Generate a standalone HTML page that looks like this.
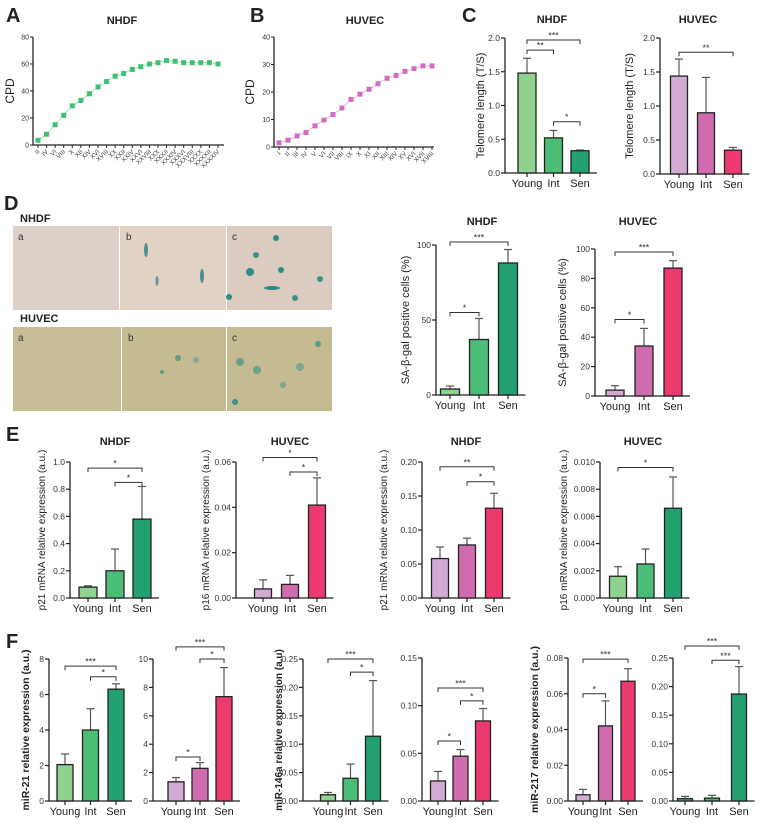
<!DOCTYPE html>
<html><head><meta charset="utf-8"><style>
html,body{margin:0;padding:0;background:#fff;}
svg{display:block;font-family:"Liberation Sans",Arial,sans-serif;}
</style></head><body>
<svg id="fig" width="763" height="824" viewBox="0 0 763 824" xmlns="http://www.w3.org/2000/svg">
<g id="static">
  <text x="6" y="22" font-size="20" font-weight="bold" fill="#222">A</text>
  <text x="250" y="22" font-size="20" font-weight="bold" fill="#222">B</text>
  <text x="462" y="22" font-size="20" font-weight="bold" fill="#222">C</text>
  <text x="4" y="210" font-size="20" font-weight="bold" fill="#222">D</text>
  <text x="6" y="441" font-size="20" font-weight="bold" fill="#222">E</text>
  <text x="6" y="648" font-size="20" font-weight="bold" fill="#222">F</text>
  <text x="20" y="222" font-size="11" font-weight="bold" fill="#222">NHDF</text>
  <text x="20" y="322" font-size="11" font-weight="bold" fill="#222">HUVEC</text>
  <g><rect x="13" y="226" width="106" height="84" fill="#ddd0c8"/><text x="18" y="240" font-size="10" fill="#333">a</text></g>
  <g><rect x="120" y="226" width="106" height="84" fill="#e1d2c4"/><text x="126" y="240" font-size="10" fill="#333">b</text>
    <ellipse cx="146" cy="250" rx="2" ry="7" fill="#4f8f94"/><ellipse cx="202" cy="276" rx="2" ry="7" fill="#4f8f94"/><ellipse cx="157" cy="281" rx="1.5" ry="5" fill="#5a9a98"/></g>
  <g><rect x="227" y="226" width="105" height="84" fill="#dbcbc0"/><text x="232" y="240" font-size="10" fill="#333">c</text>
    <circle cx="276" cy="238" r="3" fill="#2f8a86"/><circle cx="250" cy="272" r="4" fill="#2f8a86"/><circle cx="281" cy="270" r="3" fill="#2f8a86"/><ellipse cx="272" cy="288" rx="8" ry="2" fill="#2f8a86"/><circle cx="229" cy="297" r="3" fill="#2f8a86"/><circle cx="295" cy="298" r="3" fill="#3e8f8c"/><circle cx="320" cy="279" r="3" fill="#3e8f8c"/><circle cx="256" cy="255" r="3" fill="#3e8f8c"/></g>
  <g><rect x="13" y="327" width="108" height="84" fill="#c7be98"/><text x="18" y="341" font-size="10" fill="#333">a</text></g>
  <g><rect x="122" y="327" width="104" height="84" fill="#c4bb93"/><text x="128" y="341" font-size="10" fill="#333">b</text>
    <circle cx="178" cy="358" r="3" fill="#5c9a8a"/><circle cx="162" cy="372" r="2" fill="#5c9a8a"/><circle cx="196" cy="360" r="3" fill="#8aa98a"/></g>
  <g><rect x="227" y="327" width="105" height="84" fill="#c4bb93"/><text x="232" y="341" font-size="10" fill="#333">c</text>
    <circle cx="240" cy="362" r="4" fill="#6aa08e"/><circle cx="257" cy="370" r="4" fill="#6aa08e"/><circle cx="300" cy="367" r="4" fill="#7aa78e"/><circle cx="318" cy="344" r="3" fill="#5c9a8a"/><circle cx="235" cy="402" r="3" fill="#3e8f8c"/><circle cx="283" cy="385" r="3" fill="#7aa78e"/></g>
</g>
<g id="charts"></g>
</svg>
<script>
// ---- Panel A / B growth curves ----
const aLabels = ["II","IV","VI","VIII","X","XII","XIV","XVI","XVIII","XX","XXII","XXIV","XXVI","XXVIII","XXX","XXXII","XXXIV","XXXVI","XXXVIII","XXXX","XXXXII","XXXXIV"];
const aValues = [3.5,8,15,22,29,33,38,43,47,51,53,56,58,60,61,62.5,62,61,61,61,61,60];
const aTicks = [0,20,40,60,80];
const bLabels = ["I","II","III","IV","V","VI","VII","VIII","IX","X","XI","XII","XIII","XIV","XV","XVI","XVII","XVIII"];
const bValues = [1.5,2.5,4,5.3,7.7,9.8,11.8,14.2,17.3,19.2,21,23,25,26,27.5,28.5,29.5,29.5];
const bTicks = [0,10,20,30,40];
// ---- Bar charts ----
const groups = ["Young","Int","Sen"];
const cNhdfVals=[1.48,0.52,0.33], cNhdfErr=[0.22,0.11,0.01], cNhdfTicks=[0,0.5,1.0,1.5,2.0];
const cHuvecVals=[1.44,0.90,0.35], cHuvecErr=[0.25,0.52,0.04], cHuvecTicks=[0,0.5,1.0,1.5,2.0];
const dNhdfVals=[4,37,88], dNhdfErr=[2,14,9], dNhdfTicks=[0,50,100];
const dHuvecVals=[4,34,87], dHuvecErr=[3,12,5], dHuvecTicks=[0,20,40,60,80,100];
const e1Vals=[0.08,0.20,0.58], e1Err=[0.01,0.16,0.24], e1Ticks=[0,0.2,0.4,0.6,0.8,1.0];
const e2Vals=[0.004,0.006,0.041], e2Err=[0.004,0.004,0.012], e2Ticks=[0,0.02,0.04,0.06];
const e3Vals=[0.058,0.078,0.132], e3Err=[0.017,0.010,0.022], e3Ticks=[0,0.05,0.10,0.15,0.20];
const e4Vals=[0.0016,0.0025,0.0066], e4Err=[0.0007,0.0011,0.0023], e4Ticks=[0,0.002,0.004,0.006,0.008,0.010];
const f1Vals=[2.05,4.0,6.3], f1Err=[0.6,1.2,0.3], f1Ticks=[0,2,4,6,8];
const f2Vals=[1.35,2.3,7.35], f2Err=[0.3,0.4,2.05], f2Ticks=[0,2,4,6,8,10];
const f3Vals=[0.011,0.040,0.114], f3Err=[0.004,0.025,0.098], f3Ticks=[0,0.05,0.10,0.15,0.20,0.25];
const f4Vals=[0.021,0.047,0.084], f4Err=[0.010,0.007,0.013], f4Ticks=[0,0.05,0.10,0.15];
const f5Vals=[0.0035,0.042,0.067], f5Err=[0.003,0.014,0.007], f5Ticks=[0,0.02,0.04,0.06,0.08];
const f6Vals=[0.004,0.005,0.187], f6Err=[0.004,0.005,0.048], f6Ticks=[0,0.05,0.10,0.15,0.20,0.25];

const GREEN=["#8fd18f","#4bbd77","#23a070"], PURP=["#d2aad3","#d06cae","#ec3a70"];
const NS="http://www.w3.org/2000/svg";
const root=document.getElementById("charts");
function mk(tag,attrs,parent,txt){const e=document.createElementNS(NS,tag);for(const k in attrs)e.setAttribute(k,attrs[k]);if(txt!==undefined)e.textContent=txt;(parent||root).appendChild(e);return e;}
function fmt(v,d){return v.toFixed(d);}

function lineChart(o){
  const g=mk("g",{});
  
  
  const ys=v=>o.y0-(v/o.ymax)*(o.y0-o.yTop);
  const xs=i=>o.x1+i*o.dx;
  const ax=mk("path",{d:`M${o.ax} ${o.yTop}V${o.y0}H${o.axEnd}`,stroke:"#222","stroke-width":1.3,fill:"none"},g);
  
  
  o.ticks.forEach(t=>{mk("line",{x1:o.ax-3,x2:o.ax,y1:ys(t),y2:ys(t),stroke:"#222"},g);
    const tl=mk("text",{x:o.ax-4,y:ys(t)+2.5,"font-size":7,"text-anchor":"end",fill:"#333"},g,t);
    
    });
  let d="";
  o.values.forEach((v,i)=>{d+=(i?"L":"M")+xs(i)+" "+ys(v);});
  const ln=mk("path",{d:d,stroke:o.color,"stroke-width":0.8,fill:"none",opacity:0.6},g);
  
  
  o.values.forEach((v,i)=>{const p=mk("rect",{x:xs(i)-2.5,y:ys(v)-2.5,width:5,height:5,fill:o.color},g);
    
    });
  o.labels.forEach((l,i)=>{mk("line",{x1:xs(i),x2:xs(i),y1:o.y0,y2:o.y0+3,stroke:"#222"},g);
    const t=mk("text",{x:xs(i)+2,y:o.y0+7,"font-size":6.5,"text-anchor":"end",fill:"#444",transform:`rotate(-45 ${xs(i)+2} ${o.y0+7})`},g,l);
    
    });
  const yl=mk("text",{x:o.ylx,y:(o.y0+o.yTop)/2,"font-size":12,"text-anchor":"middle",fill:"#222",transform:`rotate(-90 ${o.ylx} ${(o.y0+o.yTop)/2})`},g,"CPD");
  
  
  const tt=mk("text",{x:o.tx,y:o.ty,"font-size":11,"font-weight":"bold","text-anchor":"middle",fill:"#222"},g,o.title);
  
  
}

function barChart(o){
  const g=mk("g",{});
  
  
  const ymax=o.ticks[o.ticks.length-1];
  const ys=v=>o.y0-(v/ymax)*(o.y0-o.yTop);
  const xs=i=>o.c0+i*o.dc;
  const axEnd=xs(2)+o.bw/2+8;
  const ax=mk("path",{d:`M${o.ax} ${o.yTop}V${o.y0}H${axEnd}`,stroke:"#222","stroke-width":1.3,fill:"none"},g);
  
  
  o.ticks.forEach(t=>{mk("line",{x1:o.ax-4,x2:o.ax,y1:ys(t),y2:ys(t),stroke:"#222","stroke-width":1.2},g);
    const tl=mk("text",{x:o.ax-5,y:ys(t)+3,"font-size":8.5,"text-anchor":"end",fill:"#333"},g,fmt(t,o.dec));
    
    });
  o.vals.forEach((v,i)=>{
    const x=xs(i);
    const el=mk("line",{x1:x,x2:x,y1:ys(v),y2:ys(v+o.err[i]),stroke:"#555","stroke-width":1.2},g);
    
    
    mk("line",{x1:x-4,x2:x+4,y1:ys(v+o.err[i]),y2:ys(v+o.err[i]),stroke:"#555","stroke-width":1.2},g);
    const r=mk("rect",{x:x-o.bw/2,y:ys(v),width:o.bw,height:o.y0-ys(v),fill:o.colors[i],stroke:"#222","stroke-width":1.3},g);
    
    
    mk("line",{x1:x,x2:x,y1:o.y0,y2:o.y0+4,stroke:"#222","stroke-width":1.2},g);
    const cl=mk("text",{x:x,y:o.y0+14,"font-size":11,"text-anchor":"middle",fill:"#222"},g,groups[i]);
    
    
  });
  (o.sig||[]).forEach(s=>{
    const y=ys(s[2]),x1=xs(s[0]),x2=xs(s[1]);
    const b=mk("path",{d:`M${x1} ${y+4}V${y}H${x2}V${y+4}`,stroke:"#333","stroke-width":1,fill:"none"},g);
    
    
    const st=mk("text",{x:(x1+x2)/2,y:y-1.5,"font-size":9,"text-anchor":"middle",fill:"#333"},g,s[3]);
    
    
  });
  const my=(o.y0+o.yTop)/2;
  const yl=mk("text",{x:o.ylx,y:my,"font-size":o.ylfs||11,"font-weight":o.ylbold?"bold":"normal","text-anchor":"middle",fill:"#222",transform:`rotate(-90 ${o.ylx} ${my})`},g,o.ylabel);
  if(o.ylabel){}
  
  if(o.title){const tt=mk("text",{x:o.tx,y:o.ty,"font-size":11,"font-weight":"bold","text-anchor":"middle",fill:"#222"},g,o.title);
    
    }
}

lineChart({name:"chart-a-nhdf-cpd",labels:aLabels,values:aValues,ticks:aTicks,ymax:80,ax:33,y0:145,yTop:37,axEnd:224,x1:38,dx:8.57,color:"#3fbf72",ylx:14,tx:122,ty:24,title:"NHDF"});
lineChart({name:"chart-b-huvec-cpd",labels:bLabels,values:bValues,ticks:bTicks,ymax:40,ax:274,y0:147,yTop:37,axEnd:434,x1:279,dx:9,color:"#d46bc2",ylx:254,tx:365,ty:24,title:"HUVEC"});

barChart({name:"chart-c-nhdf-telomere",vals:cNhdfVals,err:cNhdfErr,ticks:cNhdfTicks,dec:1,ax:505,y0:173,yTop:38,c0:527,dc:26.5,bw:18,colors:GREEN,ylx:484,ylabel:"Telomere length (T/S)",title:"NHDF",tx:552,ty:23,sig:[[0,2,1.97,"***"],[0,1,1.82,"**"],[1,2,0.76,"*"]]});
barChart({name:"chart-c-huvec-telomere",vals:cHuvecVals,err:cHuvecErr,ticks:cHuvecTicks,dec:1,ax:660,y0:174,yTop:38,c0:679,dc:27,bw:17,colors:PURP,ylx:633,ylabel:"Telomere length (T/S)",title:"HUVEC",tx:698,ty:23,sig:[[0,2,1.79,"**"]]});

barChart({name:"chart-d-nhdf-sabgal",vals:dNhdfVals,err:dNhdfErr,ticks:dNhdfTicks,dec:0,ax:436,y0:395,yTop:245,c0:450,dc:29,bw:19,colors:GREEN,ylx:409,ylabel:"SA-β-gal positive cells (%)",title:"NHDF",tx:482,ty:225,sig:[[0,2,102,"***"],[0,1,55,"*"]]});
barChart({name:"chart-d-huvec-sabgal",vals:dHuvecVals,err:dHuvecErr,ticks:dHuvecTicks,dec:0,ax:595,y0:396,yTop:249,c0:615,dc:29,bw:18,colors:PURP,ylx:566,ylabel:"SA-β-gal positive cells (%)",title:"HUVEC",tx:638,ty:225,sig:[[0,2,98,"***"],[0,1,52,"*"]]});

barChart({name:"chart-e-nhdf-p21",vals:e1Vals,err:e1Err,ticks:e1Ticks,dec:1,ax:70,y0:598,yTop:462,c0:88,dc:27,bw:18,colors:GREEN,ylx:45,ylfs:10,ylabel:"p21 mRNA relative expression (a.u.)",title:"NHDF",tx:115,ty:445,sig:[[0,2,0.955,"*"],[1,2,0.85,"*"]]});
barChart({name:"chart-e-huvec-p16",vals:e2Vals,err:e2Err,ticks:e2Ticks,dec:2,ax:236,y0:598,yTop:462,c0:263,dc:27,bw:17,colors:PURP,ylx:209,ylfs:10,ylabel:"p16 mRNA relative expression (a.u.)",title:"HUVEC",tx:290,ty:445,sig:[[0,2,0.062,"*"],[1,2,0.0556,"*"]]});
barChart({name:"chart-e-nhdf-p21-b",vals:e3Vals,err:e3Err,ticks:e3Ticks,dec:2,ax:422,y0:598,yTop:462,c0:440,dc:27,bw:17,colors:PURP,ylx:387,ylfs:10,ylabel:"p21 mRNA relative expression (a.u.)",title:"NHDF",tx:466,ty:445,sig:[[0,2,0.193,"**"],[1,2,0.171,"*"]]});
barChart({name:"chart-e-huvec-p16-b",vals:e4Vals,err:e4Err,ticks:e4Ticks,dec:3,ax:600,y0:598,yTop:462,c0:618,dc:27.5,bw:17,colors:GREEN,ylx:567,ylfs:10,ylabel:"p16 mRNA relative expression (a.u.)",title:"HUVEC",tx:643,ty:445,sig:[[0,2,0.0096,"*"]]});

barChart({name:"chart-f-mir21-nhdf",vals:f1Vals,err:f1Err,ticks:f1Ticks,dec:0,ax:49,y0:801,yTop:659,c0:65,dc:25.5,bw:16,colors:GREEN,ylx:29,ylbold:true,ylfs:10.5,ylabel:"miR-21 relative expression (a.u.)",sig:[[0,2,7.6,"***"],[1,2,7.0,"*"]]});
barChart({name:"chart-f-mir21-huvec",vals:f2Vals,err:f2Err,ticks:f2Ticks,dec:0,ax:153,y0:801,yTop:659,c0:176,dc:24,bw:16,colors:PURP,ylx:0,ylabel:"",sig:[[0,2,10.85,"***"],[1,2,10.0,"*"],[0,1,3.1,"*"]]});
barChart({name:"chart-f-mir146a-nhdf",vals:f3Vals,err:f3Err,ticks:f3Ticks,dec:2,ax:303,y0:801,yTop:659,c0:328,dc:22.5,bw:15,colors:GREEN,ylx:282,ylbold:true,ylfs:10,ylabel:"miR-146a relative expression (a.u)",sig:[[0,2,0.25,"***"],[1,2,0.227,"*"]]});
barChart({name:"chart-f-mir146a-huvec",vals:f4Vals,err:f4Err,ticks:f4Ticks,dec:2,ax:422,y0:801,yTop:658,c0:438,dc:22.5,bw:15,colors:PURP,ylx:0,ylabel:"",sig:[[0,2,0.1185,"***"],[1,2,0.105,"*"],[0,1,0.063,"*"]]});
barChart({name:"chart-f-mir217-huvec",vals:f5Vals,err:f5Err,ticks:f5Ticks,dec:2,ax:568,y0:801,yTop:658,c0:583,dc:22.5,bw:14,colors:PURP,ylx:538,ylbold:true,ylfs:10.5,ylabel:"miR-217 relative expression (a.u.)",sig:[[0,2,0.0794,"***"],[0,1,0.06,"*"]]});
barChart({name:"chart-f-mir217-nhdf",vals:f6Vals,err:f6Err,ticks:f6Ticks,dec:2,ax:673,y0:801,yTop:658,c0:685,dc:27,bw:15,colors:["#4bbd77","#4bbd77","#23a070"],ylx:0,ylabel:"",sig:[[0,2,0.271,"***"],[1,2,0.246,"***"]]});
</script>
</body></html>
